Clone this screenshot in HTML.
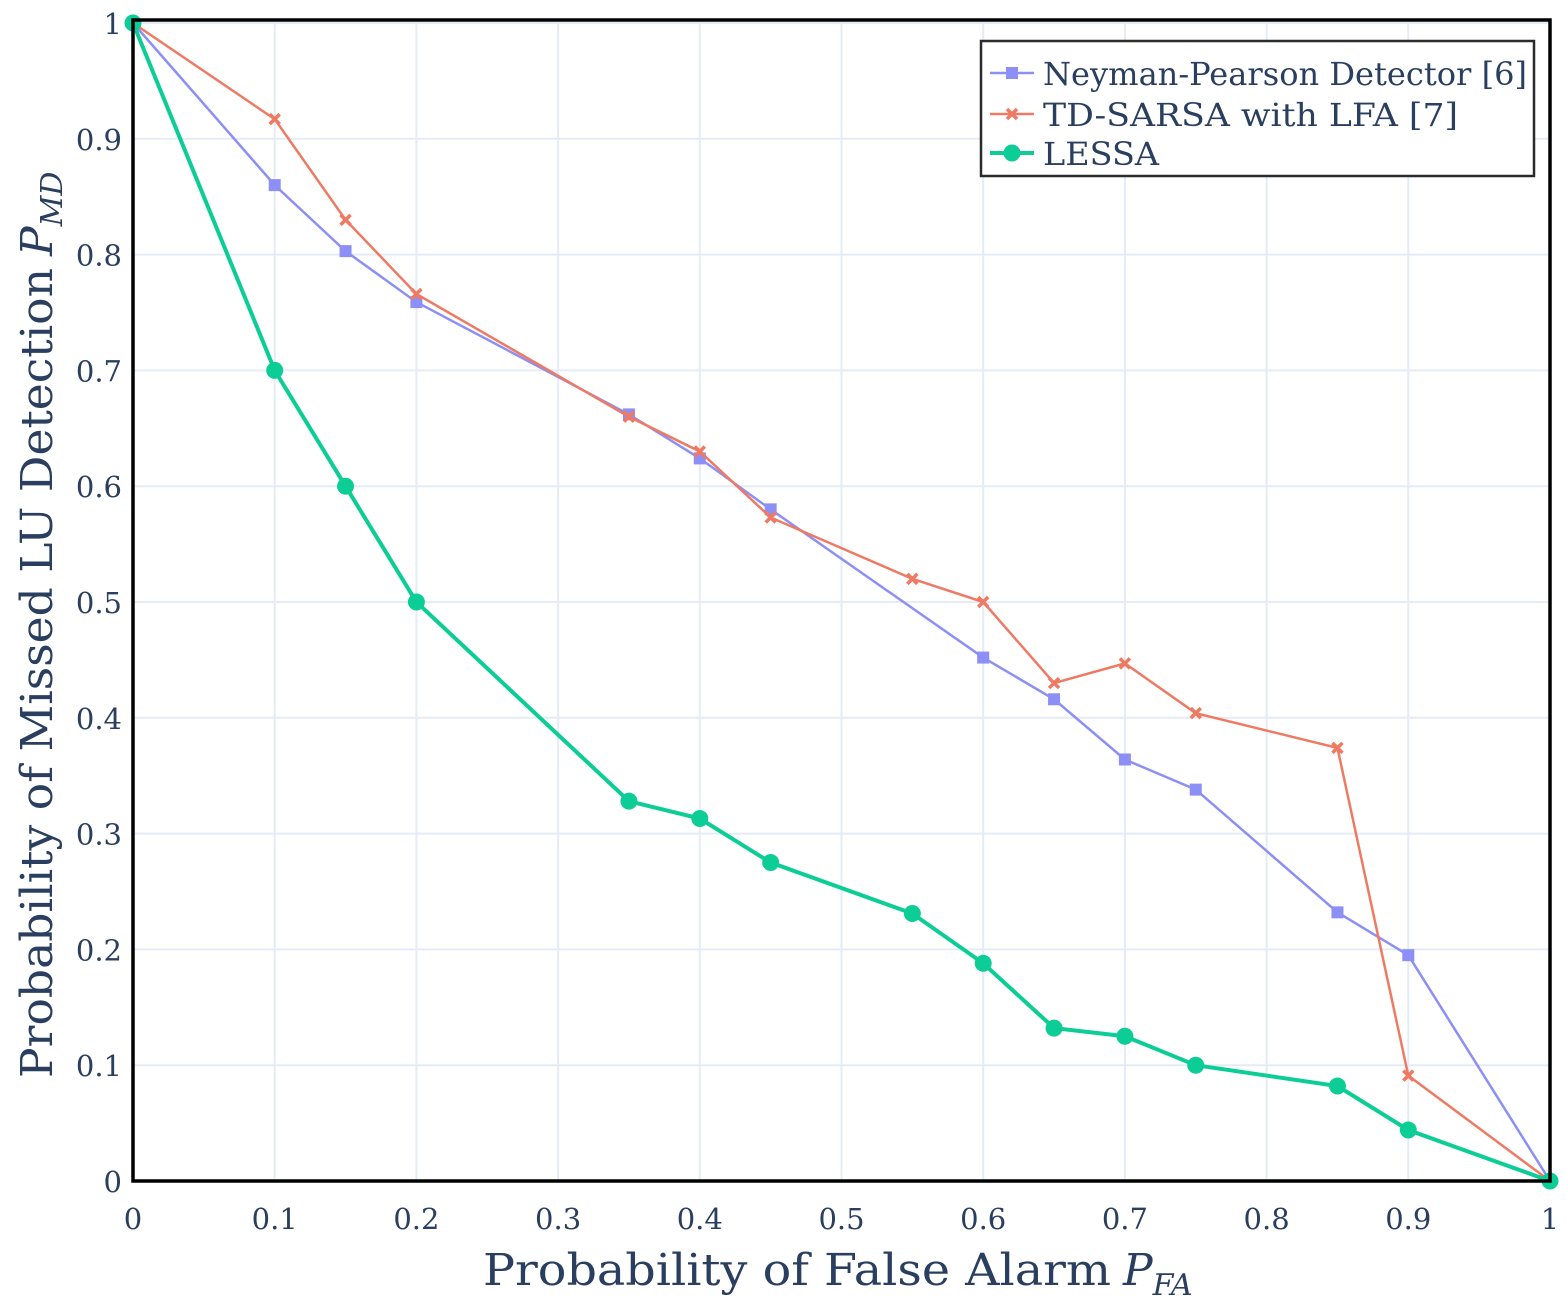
<!DOCTYPE html>
<html><head><meta charset="utf-8"><style>
body{margin:0;background:#fff}
svg text{font-family:"DejaVu Serif","Liberation Serif",serif;fill:#2a3f5f}
</style></head><body>
<svg width="1567" height="1304" id="c">
</svg>
<script>
const xTicks=[0,0.1,0.2,0.3,0.4,0.5,0.6,0.7,0.8,0.9,1];
const xTickLabels=["0","0.1","0.2","0.3","0.4","0.5","0.6","0.7","0.8","0.9","1"];
const yTicks=[0,0.1,0.2,0.3,0.4,0.5,0.6,0.7,0.8,0.9,1];
const yTickLabels=["0","0.1","0.2","0.3","0.4","0.5","0.6","0.7","0.8","0.9","1"];
const npX=[0,0.1,0.15,0.2,0.35,0.4,0.45,0.6,0.65,0.7,0.75,0.85,0.9,1];
const npY=[1,0.86,0.803,0.759,0.662,0.624,0.58,0.452,0.416,0.364,0.338,0.232,0.195,0];
const tdX=[0,0.1,0.15,0.2,0.35,0.4,0.45,0.55,0.6,0.65,0.7,0.75,0.85,0.9,1];
const tdY=[1,0.917,0.830,0.766,0.660,0.630,0.573,0.520,0.500,0.430,0.447,0.404,0.374,0.091,0];
const leX=[0,0.1,0.15,0.2,0.35,0.4,0.45,0.55,0.6,0.65,0.7,0.75,0.85,0.9,1];
const leY=[1,0.7,0.6,0.5,0.328,0.313,0.275,0.231,0.188,0.132,0.125,0.1,0.082,0.044,0];
const NS="http://www.w3.org/2000/svg",svg=document.getElementById('c');
const L=133,R=1550,T=23,B=1181;
const sx=v=>L+v*(R-L), sy=v=>B-v*(B-T);
function mk(t,a,p){const e=document.createElementNS(NS,t);for(const k in a)e.setAttribute(k,a[k]);(p||svg).appendChild(e);return e;}
xTicks.forEach((v,i)=>{
 const g=mk('line',{x1:sx(v),x2:sx(v),y1:T,y2:B,stroke:'#e5ecf6','stroke-width':2});
 
 
 const t=mk('text',{x:sx(v),y:1229,'text-anchor':'middle','font-size':29});
 t.textContent=xTickLabels[i];
 
 
});
yTicks.forEach((v,i)=>{
 const g=mk('line',{x1:L,x2:R,y1:sy(v),y2:sy(v),stroke:'#e5ecf6','stroke-width':2});
 
 
 const t=mk('text',{x:122,y:sy(v)+11,'text-anchor':'end','font-size':29});
 t.textContent=yTickLabels[i];
 
 
});
function series(xs,ys,color,w,name,marker){
 const p=mk('polyline',{points:xs.map((x,i)=>sx(x)+','+sy(ys[i])).join(' '),fill:'none',stroke:color,'stroke-width':w});
 
 
 xs.forEach((x,i)=>{
  const cx=sx(x),cy=sy(ys[i]);let m;
  if(marker==='sq')m=mk('rect',{x:cx-6,y:cy-6,width:12,height:12,fill:color});
  else if(marker==='x')m=mk('path',{d:`M${cx-5},${cy-5}L${cx+5},${cy+5}M${cx+5},${cy-5}L${cx-5},${cy+5}`,stroke:color,'stroke-width':3.5});
  else m=mk('circle',{cx:cx,cy:cy,r:8.5,fill:color});
  
  
 });
}
series(npX,npY,'#8c8ff5',2.5,'neyman-pearson','sq');
series(tdX,tdY,'#ef7a63',2.5,'td-sarsa','x');
series(leX,leY,'#0ccd96',4,'lessa','o');
const fr=mk('rect',{x:L,y:T-3,width:R-L,height:B-T+3,fill:'none',stroke:'#000','stroke-width':3.5});

</script>
<svg style="position:absolute;left:0;top:0" width="1567" height="1304">
<g>
<rect x="981" y="41" width="553" height="135" fill="#fff" stroke="#2b2b2b" stroke-width="2.5"/>
<g>
<line x1="990" y1="73" x2="1034" y2="73" stroke="#8c8ff5" stroke-width="2.5"/><rect x="1006" y="67" width="12" height="12" fill="#8c8ff5"/>
<text x="1043" y="85" font-size="32" textLength="484" lengthAdjust="spacingAndGlyphs">Neyman-Pearson Detector [6]</text></g>
<g>
<line x1="990" y1="114" x2="1034" y2="114" stroke="#ef7a63" stroke-width="2.5"/><path d="M1007,109L1017,119M1017,109L1007,119" stroke="#ef7a63" stroke-width="3.5"/>
<text x="1043" y="126" font-size="32" textLength="415" lengthAdjust="spacingAndGlyphs">TD-SARSA with LFA [7]</text></g>
<g>
<line x1="990" y1="153" x2="1034" y2="153" stroke="#0ccd96" stroke-width="4"/><circle cx="1012" cy="153" r="8.5" fill="#0ccd96"/>
<text x="1043" y="165" font-size="32" textLength="116" lengthAdjust="spacingAndGlyphs">LESSA</text></g>
</g>
<text x="483" y="1285" font-size="44"><tspan textLength="628" lengthAdjust="spacingAndGlyphs">Probability of False Alarm</tspan><tspan font-style="italic" dx="12">P</tspan><tspan font-style="italic" font-size="30" dy="10">FA</tspan></text>
<text transform="translate(52,1078) rotate(-90)" font-size="44"><tspan textLength="810" lengthAdjust="spacingAndGlyphs">Probability of Missed LU Detection</tspan><tspan font-style="italic" dx="12">P</tspan><tspan font-style="italic" font-size="30" dy="10">MD</tspan></text>
</svg>
</body></html>
